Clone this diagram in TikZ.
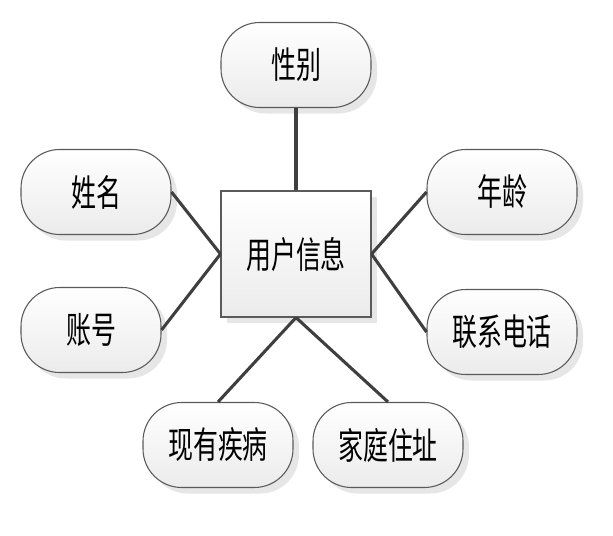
\documentclass[tikz,border=0pt]{standalone}
\usepackage{fontspec}
\newfontfamily\cjk[FakeStretch=0.68]{Noto Sans CJK SC}
\definecolor{edge}{HTML}{5A5A5A}
\definecolor{conn}{HTML}{3F3F3F}
\definecolor{shade}{HTML}{E6E6E6}
\definecolor{bot}{HTML}{EBEBEB}
\tikzset{
  attr/.style={draw=edge, line width=0.8pt, rounded corners=29pt,
    minimum width=112.5pt, minimum height=63.75pt, inner sep=0pt,
    top color=white, bottom color=bot,
    preaction={fill=shade, draw=none, transform canvas={shift={(4.5pt,-4.5pt)}}},
    font=\cjk\fontsize{27.5}{31}\selectfont},
  entity/.style={draw=edge, line width=0.8pt,
    minimum width=112.5pt, minimum height=94.5pt, inner sep=0pt,
    top color=white, bottom color=bot,
    preaction={fill=shade, draw=none, transform canvas={shift={(4.5pt,-4.5pt)}}},
    font=\cjk\fontsize{27.5}{31}\selectfont},
  link/.style={draw=conn, line width=2.3pt}
}
\begin{document}
\begin{tikzpicture}[x=0.75pt,y=-0.75pt]
\useasboundingbox (0,0) rectangle (613,535);
\node[entity] (main) at (296,254) {用户信息};
\node[attr] (xb) at (296,65) {性别};
\node[attr] (xm) at (96,192) {姓名};
\node[attr, minimum width=105pt] (zh) at (91,330) {账号};
\node[attr] (nl) at (502,192) {年龄};
\node[attr] (dh) at (502,332) {联系电话};
\node[attr] (jb) at (218,445) {现有疾病};
\node[attr] (dz) at (388,445) {家庭住址};
\draw[link] (xb.south) -- (main.north);
\draw[link] (xm.east) -- (main.west);
\draw[link] (zh.east) -- (main.west);
\draw[link] (nl.west) -- (main.east);
\draw[link] (dh.west) -- (main.east);
\draw[link] (jb.north) -- (main.south);
\draw[link] (dz.north) -- (main.south);
\end{tikzpicture}
\end{document}
